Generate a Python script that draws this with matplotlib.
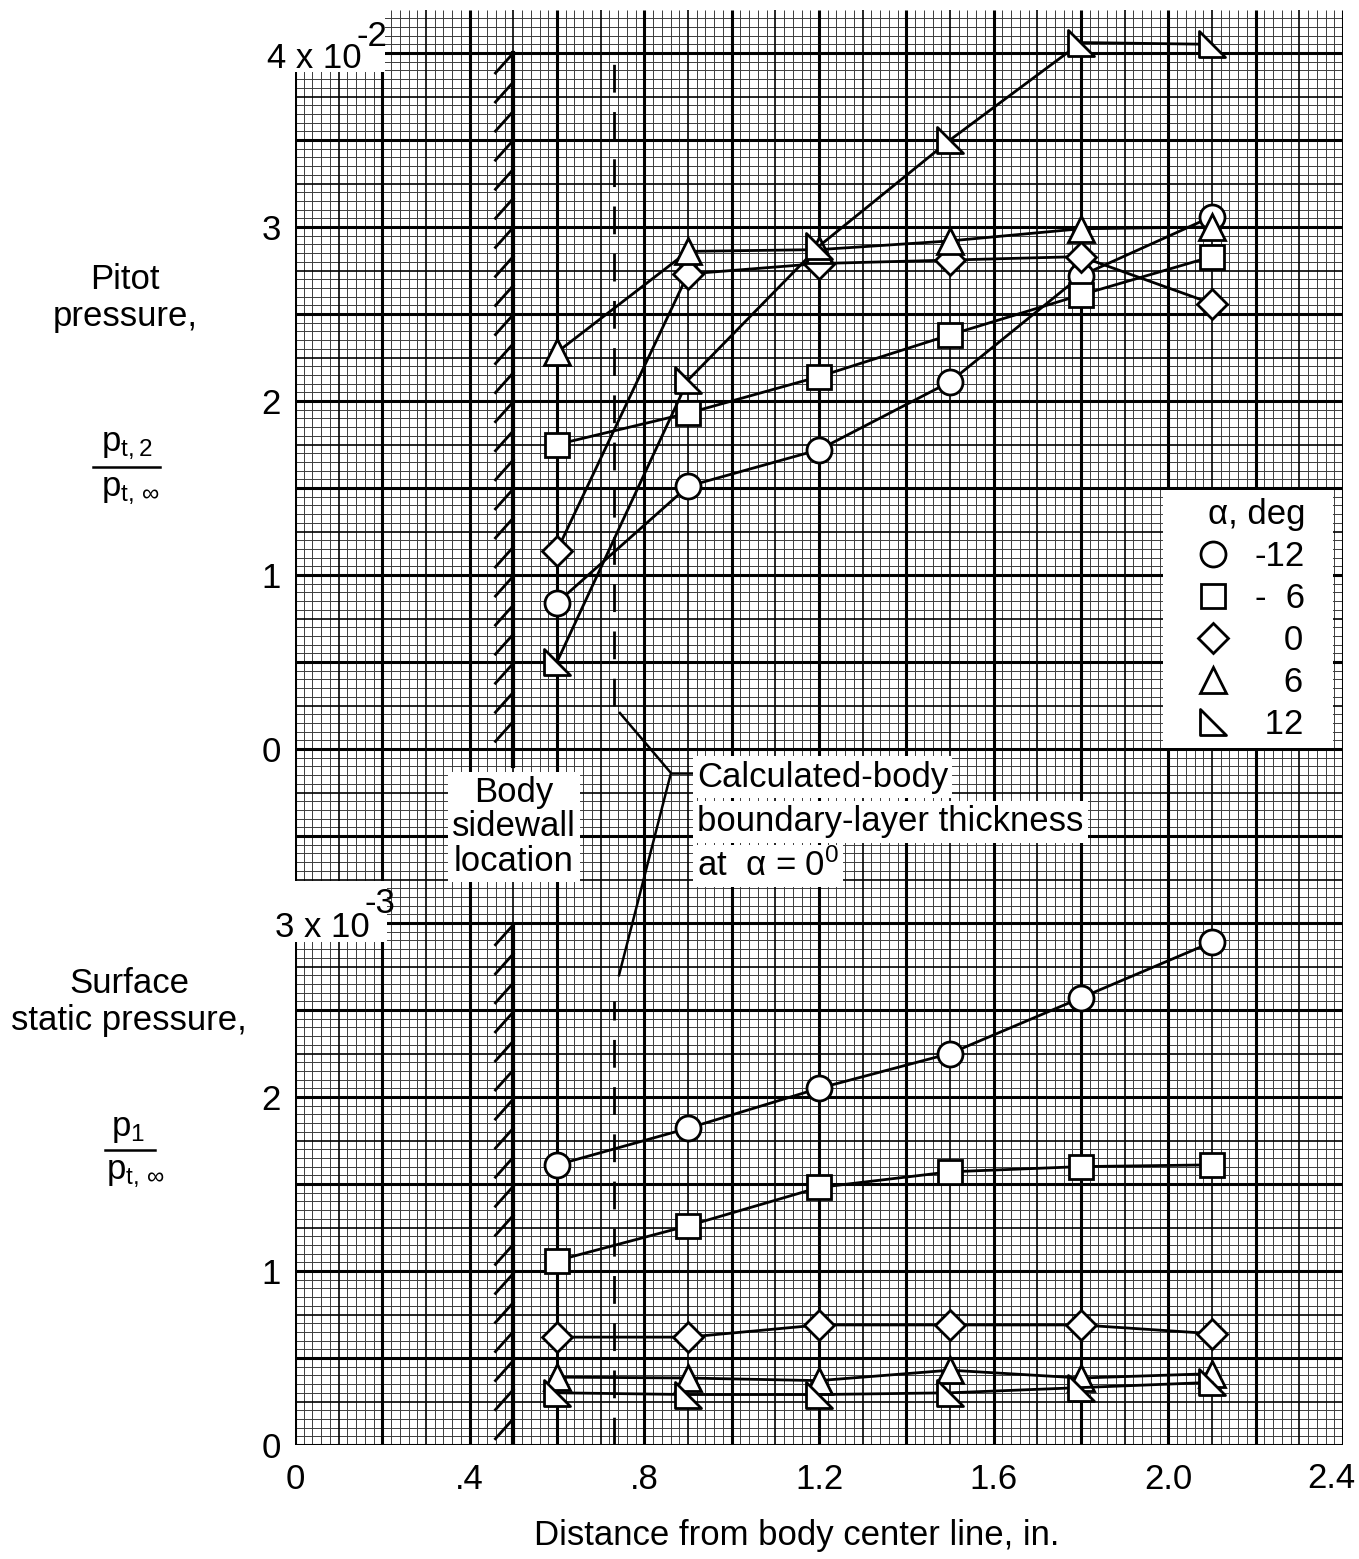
import numpy as np
import matplotlib
matplotlib.use('Agg')
import matplotlib.pyplot as plt
from matplotlib.path import Path
from matplotlib.lines import Line2D
from matplotlib.patches import Rectangle

plt.rcParams['font.family'] = ['Liberation Sans', 'DejaVu Sans']
plt.rcParams['mathtext.fontset'] = 'custom'
plt.rcParams['mathtext.rm'] = 'Liberation Sans'
plt.rcParams['mathtext.it'] = 'Liberation Sans'
plt.rcParams['mathtext.sf'] = 'Liberation Sans'

# ---- data ----
x_in = [0.6, 0.9, 1.2, 1.5, 1.8, 2.1]          # distance from body center line, in.
alpha_labels = ['-12', '-  6', '   0', '   6', ' 12']
x_ticks = [0, 0.4, 0.8, 1.2, 1.6, 2.0]
x_ticklabels = ['0', '.4', '.8', '1.2', '1.6', '2.0']

# pitot pressure p_t,2 / p_t,inf  (x 1e-2)
pitot_m12 = [0.84, 1.51, 1.72, 2.11, 2.72, 3.06]
pitot_m6 = [1.75, 1.93, 2.14, 2.38, 2.61, 2.83]
pitot_0 = [1.14, 2.73, 2.79, 2.81, 2.83, 2.56]
pitot_6 = [2.28, 2.86, 2.87, 2.92, 2.99, 3.00]
pitot_12 = [0.50, 2.12, 2.89, 3.50, 4.06, 4.05]

# surface static pressure p_1 / p_t,inf  (x 1e-3)
static_m12 = [1.61, 1.82, 2.05, 2.25, 2.57, 2.89]
static_m6 = [1.06, 1.26, 1.48, 1.57, 1.60, 1.61]
static_0 = [0.62, 0.62, 0.69, 0.69, 0.69, 0.64]
static_6 = [0.39, 0.385, 0.37, 0.43, 0.385, 0.41]
static_12 = [0.30, 0.29, 0.29, 0.30, 0.33, 0.36]

sidewall_x = 0.5
bl_thickness_x = 0.73

# right-angle triangle marker
right_tri = Path([(-1, 1), (-1, -1), (1, -1), (-1, 1)],
                 [Path.MOVETO, Path.LINETO, Path.LINETO, Path.CLOSEPOLY])
markers = ['o', 's', 'D', '^', right_tri]
msizes = [18, 17, 15, 19, 19]

W, H = 1359, 1559
def fx(px):
    return px / W
def fy(py):
    return 1 - py / H

fig = plt.figure(figsize=(W / 100, H / 100), dpi=100)
ax = fig.add_axes([fx(295), fy(1445), 1048 / W, 1435 / H])
ytop = 1435 / 174
ax.set_xlim(0, 2.4)
ax.set_ylim(0, ytop)
ax2 = ax.twinx()
ax2.set_ylim(-4, ytop - 4)

# graph paper
xs = np.arange(121) * 0.02
ys = np.arange(int(ytop / 0.05) + 1) * 0.05
ix = np.arange(121)
iy = np.arange(len(ys))
ax.vlines(xs[ix % 5 != 0], 0, ytop, colors='#3c3c3c', lw=0.7, zorder=0.2)
ax.hlines(ys[iy % 5 != 0], 0, 2.4, colors='#3c3c3c', lw=0.7, zorder=0.2)
ax.vlines(xs[(ix % 5 == 0) & (ix % 10 != 0)], 0, ytop, colors='k', lw=1.2, zorder=0.3)
ax.hlines(ys[(iy % 5 == 0) & (iy % 10 != 0)], 0, 2.4, colors='k', lw=1.2, zorder=0.3)
ax.vlines(xs[ix % 10 == 0], 0, ytop, colors='k', lw=2.2, zorder=0.4)
ax.hlines(ys[iy % 10 == 0], 0, 2.4, colors='k', lw=2.2, zorder=0.4)

# blank areas for the scale factors and the key
ax.add_patch(Rectangle((0, 7.89), 0.205, 0.5, fc='white', ec='none', zorder=1))
ax.add_patch(Rectangle((0, 2.89), 0.21, 0.35, fc='white', ec='none', zorder=1))
ax.add_patch(Rectangle((0.828, 0.4857), 0.162, 0.18, transform=ax.transAxes,
                       fc='white', ec='none', zorder=1))

# body sidewall with hatching
for y0, y1 in [(3.9, 8.0), (0, 2.99)]:
    ax.plot([sidewall_x, sidewall_x], [y0, y1], color='k', lw=3, zorder=2)
    for yy in np.arange(y1, y0 + 0.1, -0.167):
        ax.plot([sidewall_x - 0.041, sidewall_x], [yy - 0.115, yy], color='k', lw=2, zorder=2)

# boundary layer thickness
ax.plot([bl_thickness_x] * 2, [4.25, 8.0], color='k', lw=2, dashes=(10, 7), zorder=2)
ax.plot([bl_thickness_x] * 2, [0, 2.55], color='k', lw=2, dashes=(10, 7), zorder=2)
ax.plot([0.744, 0.861, 0.742], [4.207, 3.862, 2.70], color='k', lw=1.8, zorder=2)
ax.plot([0.861, 0.909], [3.862, 3.862], color='k', lw=1.8, zorder=2)

# data
for vals, m, ms in zip([static_m12, static_m6, static_0, static_6, static_12], markers, msizes):
    ax.plot(x_in, vals, color='k', lw=2, marker=m, ms=ms, mfc='white', mec='k', mew=2, zorder=3)
for vals, m, ms in zip([pitot_m12, pitot_m6, pitot_0, pitot_6, pitot_12], markers, msizes):
    ax2.plot(x_in, vals, color='k', lw=2, marker=m, ms=ms, mfc='white', mec='k', mew=2, zorder=3)

for a in (ax, ax2):
    for s in a.spines.values():
        s.set_visible(False)

ax.set_xticks(x_ticks, x_ticklabels)
ax.set_yticks([0, 1, 2], ['0', '1', '2'])
ax2.set_yticks([0, 1, 2, 3], ['0', '1', '2', '3'])
ax.tick_params(axis='x', length=0, pad=13, labelsize=25)
ax.tick_params(axis='y', length=0, pad=10, labelsize=25)
ax2.tick_params(axis='y', length=0, pad=10, labelsize=25, labelleft=True, labelright=False)
# last x label sits against the right edge of the sheet
fig.text(fx(1331), fy(1462), '2.4', ha='center', va='top', fontsize=25)

# scale factors
fig.text(fx(267), fy(68), '4 x 10', fontsize=25, va='baseline')
fig.text(fx(356), fy(46), '-2', fontsize=25, va='baseline')
fig.text(fx(275), fy(937), '3 x 10', fontsize=25, va='baseline')
fig.text(fx(365), fy(913), '-3', fontsize=25, va='baseline')

# axis labels
fig.text(fx(125), fy(298), 'Pitot\npressure,', ha='center', va='center', fontsize=25, linespacing=1.15)
fig.text(fx(127), fy(462), r'$\mathregular{p_{t,2}}$', ha='center', va='bottom', fontsize=25)
fig.text(fx(130), fy(474), r'$\mathregular{p_{t,\,∞}}$', ha='center', va='top', fontsize=25)
fig.add_artist(Line2D([fx(93), fx(160)], [fy(467), fy(467)], color='k', lw=1.8))

fig.text(fx(129), fy(1002), 'Surface\nstatic pressure,', ha='center', va='center', fontsize=25, linespacing=1.15)
fig.text(fx(128), fy(1145), r'$\mathregular{p_1}$', ha='center', va='bottom', fontsize=25)
fig.text(fx(135), fy(1157), r'$\mathregular{p_{t,\,∞}}$', ha='center', va='top', fontsize=25)
fig.add_artist(Line2D([fx(105), fx(155)], [fy(1150), fy(1150)], color='k', lw=1.8))

fig.text(fx(797), fy(1535), 'Distance from body center line, in.', ha='center', va='center', fontsize=25)

box = dict(facecolor='white', edgecolor='none', pad=3)
fig.text(fx(514), fy(827), 'Body\nsidewall\nlocation', ha='center', va='center', fontsize=25,
         linespacing=1.05, bbox=box)
fig.text(fx(697), fy(777), 'Calculated-body', va='center', fontsize=25, bbox=box)
fig.text(fx(697), fy(822), 'boundary-layer thickness', va='center', fontsize=25, bbox=box)
fig.text(fx(697), fy(866), r'at  α = 0$^{\mathregular{0}}$', va='center', fontsize=25, bbox=box)

# key
handles = [Line2D([], [], marker=m, ms=ms, mfc='white', mec='k', mew=2, ls='none')
           for m, ms in zip(markers, msizes)]
leg = ax2.legend(handles, alpha_labels, loc='upper left', bbox_to_anchor=(0.828, 0.667),
                 borderaxespad=0, title='α, deg', frameon=False, alignment='right',
                 fontsize=25, title_fontsize=25,
                 handletextpad=0.05, labelspacing=0.26, borderpad=0.3, handlelength=2.3)
leg.set_zorder(10)

fig.savefig('out.png', dpi=100)
